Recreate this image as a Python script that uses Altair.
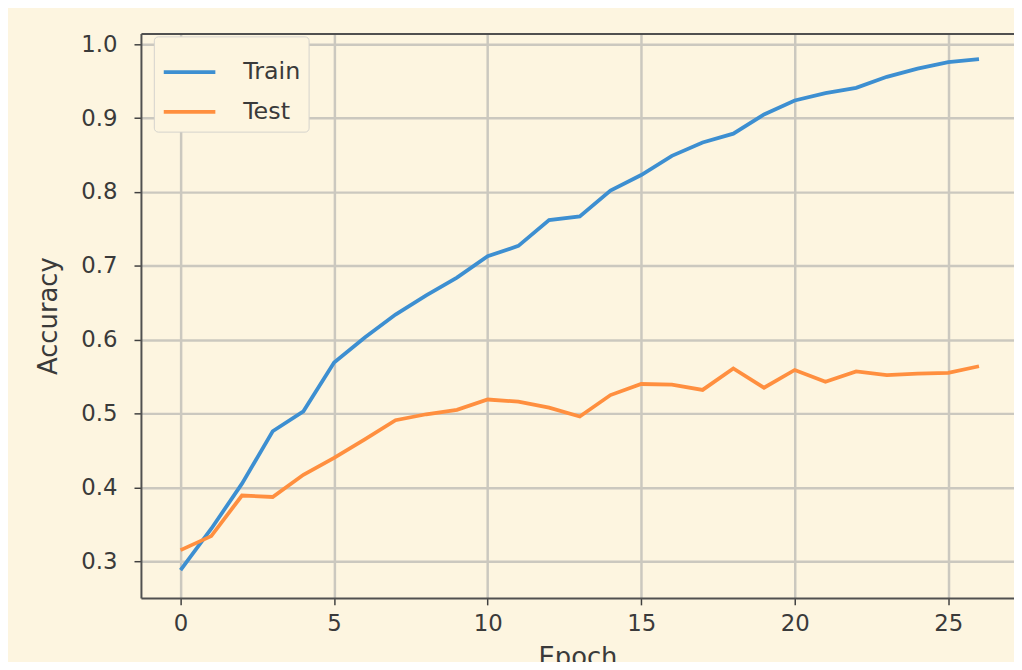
import altair as alt
import pandas as pd

epochs = list(range(27))
train_acc = [0.288, 0.344, 0.405, 0.476, 0.503, 0.569, 0.603, 0.634, 0.660, 0.684,
             0.713, 0.727, 0.762, 0.767, 0.802, 0.823, 0.849, 0.867, 0.879, 0.905,
             0.924, 0.934, 0.941, 0.956, 0.967, 0.976, 0.980]
test_acc = [0.315, 0.334, 0.389, 0.387, 0.417, 0.440, 0.465, 0.491, 0.499, 0.505,
            0.519, 0.516, 0.508, 0.496, 0.525, 0.540, 0.539, 0.532, 0.561, 0.535,
            0.559, 0.543, 0.557, 0.552, 0.554, 0.555, 0.564]
series = ["Train", "Test"]
colors = ["#3d8fd1", "#ff8f3f"]
x_ticks = [0, 5, 10, 15, 20, 25]
y_ticks = [0.3, 0.4, 0.5, 0.6, 0.7, 0.8, 0.9, 1.0]

rows = []
for e, tr, te in zip(epochs, train_acc, test_acc):
    rows.append({"Epoch": e, "Accuracy": tr, "Series": "Train"})
    rows.append({"Epoch": e, "Accuracy": te, "Series": "Test"})
df = pd.DataFrame(rows)

BG = "#fdf5e0"
FONT = "DejaVu Sans"
TXT = "#3a3a3a"
GRID = "#cbc8bf"
SPINE = "#505050"

x_scale = alt.Scale(domain=[-1.29, 27.14], nice=False, zero=False)
y_scale = alt.Scale(domain=[0.2503, 1.0148], nice=False, zero=False)

lines = alt.Chart(df).mark_line(strokeWidth=3.8).encode(
    x=alt.X("Epoch:Q", scale=x_scale,
            axis=alt.Axis(values=x_ticks, title="Epoch", format="d",
                          grid=True, gridColor=GRID, gridWidth=2.5,
                          domainColor=SPINE, domainWidth=2,
                          tickColor="#404040", tickSize=7, tickWidth=1.5,
                          labelFont=FONT, labelFontSize=23, labelColor=TXT,
                          labelPadding=8, titleFont=FONT, titleFontSize=26,
                          titleFontWeight="normal", titleColor=TXT, titlePadding=9)),
    y=alt.Y("Accuracy:Q", scale=y_scale,
            axis=alt.Axis(values=y_ticks, title="Accuracy", format=".1f",
                          grid=True, gridColor=GRID, gridWidth=2.5,
                          domainColor=SPINE, domainWidth=2,
                          tickColor="#404040", tickSize=7, tickWidth=1.5,
                          labelFont=FONT, labelFontSize=23, labelColor=TXT,
                          labelPadding=17, titleFont=FONT, titleFontSize=26,
                          titleFontWeight="normal", titleColor=TXT, titlePadding=20)),
    color=alt.Color("Series:N", scale=alt.Scale(domain=series, range=colors),
                    legend=alt.Legend(title=None, orient="none", legendX=13, legendY=3,
                                      symbolType="stroke", symbolSize=2704,
                                      symbolStrokeWidth=3.8, labelFont=FONT,
                                      labelFontSize=24, labelColor=TXT,
                                      labelOffset=26, rowPadding=-21,
                                      padding=8, fillColor=BG,
                                      strokeColor="#d4d2cc", cornerRadius=4)),
)

top_spine = alt.Chart(df).mark_point(opacity=0).encode(
    x=alt.X("Epoch:Q", scale=x_scale,
            axis=alt.Axis(orient="top", labels=False, ticks=False, grid=False,
                          title=None, domainColor=SPINE, domainWidth=2)),
)

chart = alt.layer(lines, top_spine).resolve_axis(x="independent").properties(
    width=880, height=569,
    background=BG,
    padding={"left": 134, "top": 23, "right": 0, "bottom": 62},
    autosize=alt.AutoSizeParams(type="none"),
).configure_view(stroke=None)

chart.save("out.html", embed_options={"renderer": "svg", "actions": False})
